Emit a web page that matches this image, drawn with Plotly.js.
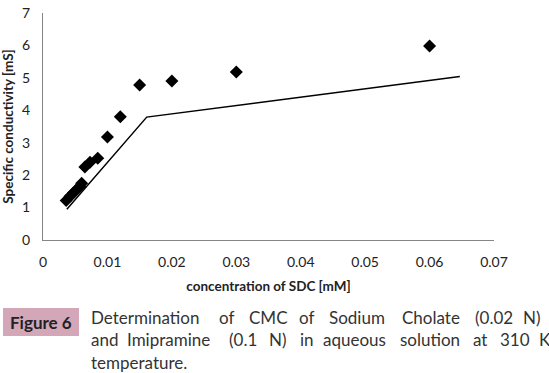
<!DOCTYPE html>
<html>
<head>
<meta charset="utf-8">
<script src="https://cdn.plot.ly/plotly-3.0.1.min.js"></script>
<style>html,body{margin:0;padding:0;background:#fff;}#chart{width:549px;height:373px;}</style>
</head>
<body>
<div id="chart"></div>
<script>
// Data
const concentration = [0.0036, 0.0042, 0.0047, 0.0052, 0.0057, 0.006, 0.0065, 0.0073, 0.0085, 0.01, 0.012, 0.015, 0.02, 0.03, 0.06];
const conductivity = [1.22, 1.35, 1.45, 1.55, 1.65, 1.75, 2.25, 2.4, 2.52, 3.18, 3.8, 4.78, 4.9, 5.18, 5.98];
const fitX = [0.0037, 0.0161, 0.0647];
const fitY = [0.95, 3.79, 5.04];
const xTickVals = [0, 0.01, 0.02, 0.03, 0.04, 0.05, 0.06, 0.07];
const xTickText = ["0", "0.01", "0.02", "0.03", "0.04", "0.05", "0.06", "0.07"];
const yTickVals = [0, 1, 2, 3, 4, 5, 6, 7];
const yTickText = ["0", "1", "2", "3", "4", "5", "6", "7"];
const captionLabel = "Figure 6";
const captionLines = [
  ["Determination", "of", "CMC", "of", "Sodium", "Cholate", "(0.02", "N)"],
  ["and", "Imipramine", "(0.1", "N)", "in", "aqueous", "solution", "at", "310", "K"],
  ["temperature."]
];

// Layout geometry (pixels)
const W = 549, H = 373;
const L = 43, R = 494, T = 13, B = 240;
const px = v => (v - L) / (R - L);
const py = v => (B - v) / (B - T);

// word left positions for justified caption (pixels)
const wordPos = [
  [89, 217, 247, 297, 327, 400, 473, 521],
  [89, 125, 227, 267, 298, 321, 398, 471, 498, 537],
  [89]
];
const lineY = [317, 340, 362];

const annotations = [];
captionLines.forEach((words, i) => {
  words.forEach((w, j) => {
    annotations.push({
      text: w, xref: 'paper', yref: 'paper',
      x: px(wordPos[i][j]), y: py(lineY[i]),
      xanchor: 'left', yanchor: 'middle', showarrow: false,
      font: {family: 'Lato, sans-serif', size: 17, color: '#333333'}
    });
  });
});
annotations.push({
  text: '<b>' + captionLabel + '</b>', xref: 'paper', yref: 'paper',
  x: px(41), y: py(322), xanchor: 'center', yanchor: 'middle', showarrow: false,
  font: {family: 'Lato, sans-serif', size: 17, color: '#222222'}
});

const traces = [
  {
    x: fitX, y: fitY, type: 'scatter', mode: 'lines',
    line: {color: '#000000', width: 1.5}, hoverinfo: 'skip'
  },
  {
    x: concentration, y: conductivity, type: 'scatter', mode: 'markers',
    marker: {symbol: 'diamond', size: 10, color: '#000000'}
  }
];

const layout = {
  width: W, height: H,
  margin: {l: L, r: W - R, t: T, b: H - B, pad: 0},
  paper_bgcolor: '#ffffff', plot_bgcolor: '#ffffff',
  showlegend: false,
  font: {family: 'Lato, sans-serif', color: '#222222'},
  xaxis: {
    range: [0, 0.07], tickvals: xTickVals, ticktext: xTickText,
    showgrid: false, zeroline: false, showline: true, linecolor: '#868686', linewidth: 1,
    ticks: '', ticklen: 0, ticklabelstandoff: 9, tickfont: {size: 14, color: '#222222'},
    title: {text: '<b>concentration of SDC [mM]</b>', font: {size: 13.5, color: '#222222'}, standoff: 12}
  },
  yaxis: {
    range: [0, 7], tickvals: yTickVals, ticktext: yTickText,
    showgrid: false, zeroline: false, showline: true, linecolor: '#868686', linewidth: 1,
    ticks: '', ticklen: 0, ticklabelstandoff: 9, tickfont: {size: 14, color: '#222222'},
    title: {text: '<b>Specific conductivity [mS]</b>', font: {size: 13.5, color: '#222222'}, standoff: 6}
  },
  shapes: [{
    type: 'rect', xref: 'paper', yref: 'paper',
    x0: px(3), x1: px(79), y0: py(308), y1: py(336),
    fillcolor: '#d3a6b8', line: {width: 0}, layer: 'below'
  }],
  annotations: annotations
};

Plotly.newPlot('chart', traces, layout, {displayModeBar: false, staticPlot: true});
</script>
</body>
</html>
